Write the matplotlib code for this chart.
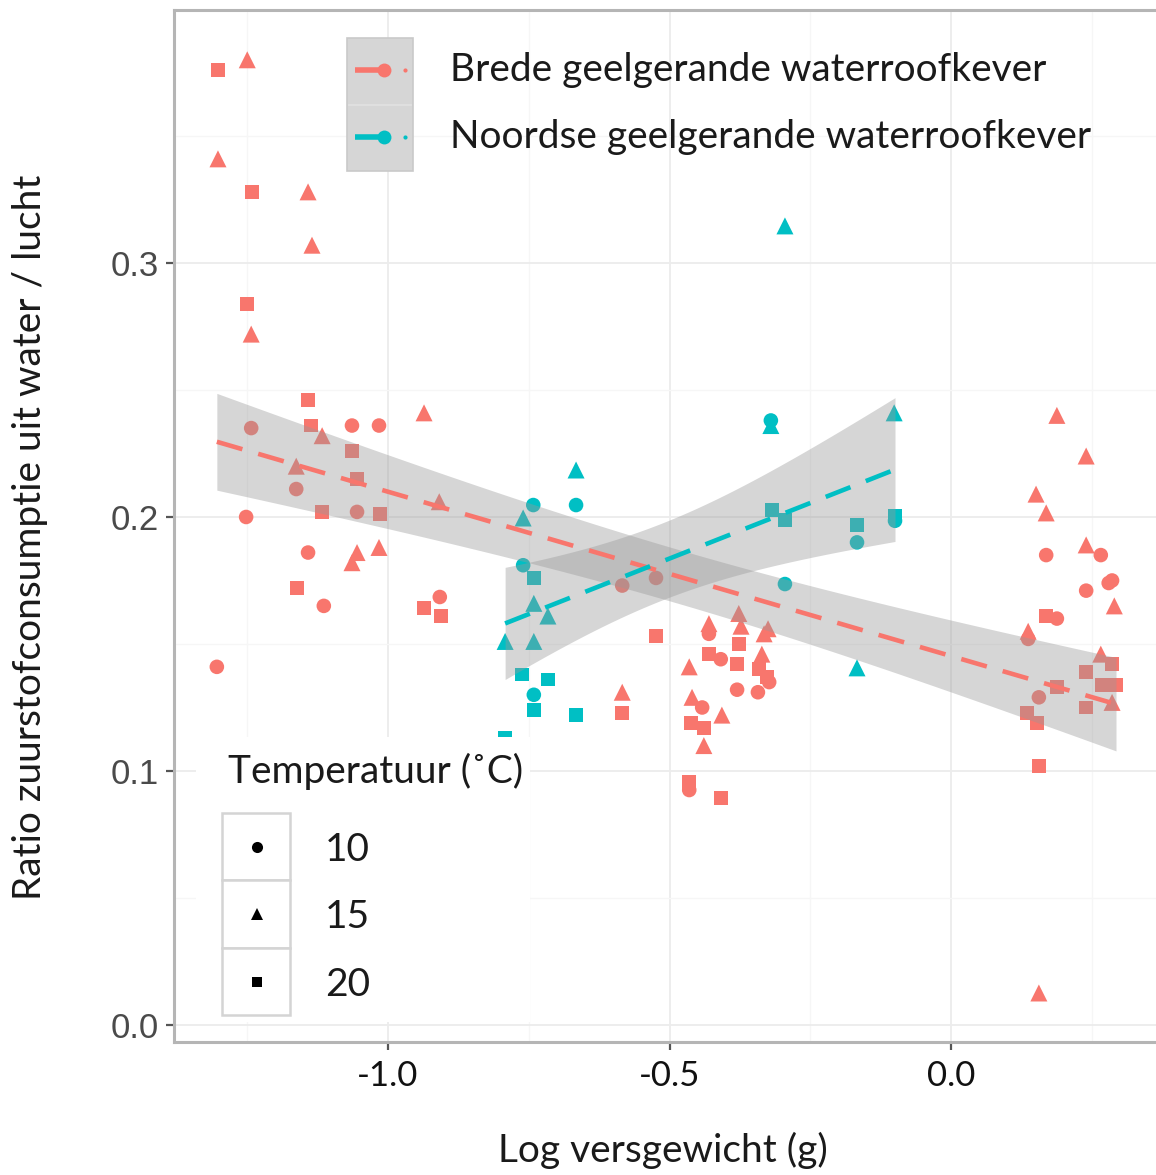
import numpy as np
import matplotlib
matplotlib.use("Agg")
import matplotlib.pyplot as plt
from matplotlib.patches import Rectangle
from matplotlib.lines import Line2D

# ---------------- data ----------------
species = ["Brede geelgerande waterroofkever", "Noordse geelgerande waterroofkever"]
temps = [10, 15, 20]
temp_labels = ["10", "15", "20"]

brede_x = [-1.302, -1.250, -1.302, -1.242, -1.142, -1.135, -1.250, -1.243, -0.936, -1.142,
           -1.137, -1.117, -1.064, -1.016, -1.243, -1.064, -1.163, -1.055, -1.163, -0.909,
           -1.117, -1.055, -1.014, -1.252, -1.142, -1.016, -1.055, -1.064, -1.162, -1.114,
           -0.908, -0.936, -0.906, -1.304, -0.524, -0.584, -0.524, -0.584, -0.584, -0.430,
           -0.430, -0.377, -0.373, -0.377, -0.332, -0.325, -0.430, -0.409, -0.380, -0.336,
           -0.341, -0.327, -0.323, -0.343, -0.380, -0.465, -0.460, -0.442, -0.407, -0.462,
           -0.439, -0.439, -0.465, -0.465, -0.409, 0.188, 0.240, 0.151, 0.169, 0.240,
           0.266, 0.169, 0.286, 0.280, 0.240, 0.290, 0.169, 0.188, 0.137, 0.137,
           0.266, 0.286, 0.240, 0.268, 0.293, 0.188, 0.156, 0.286, 0.240, 0.135,
           0.153, 0.156, 0.156]
brede_y = [0.376, 0.380, 0.341, 0.328, 0.328, 0.307, 0.284, 0.272, 0.241, 0.246,
           0.236, 0.232, 0.236, 0.236, 0.235, 0.226, 0.220, 0.215, 0.211, 0.206,
           0.202, 0.202, 0.201, 0.200, 0.186, 0.188, 0.186, 0.182, 0.172, 0.165,
           0.1685, 0.164, 0.161, 0.141, 0.176, 0.173, 0.153, 0.131, 0.123, 0.158,
           0.154, 0.162, 0.157, 0.150, 0.154, 0.156, 0.146, 0.144, 0.142, 0.146,
           0.140, 0.137, 0.135, 0.131, 0.132, 0.141, 0.129, 0.125, 0.122, 0.119,
           0.117, 0.110, 0.0957, 0.0925, 0.0894, 0.240, 0.224, 0.209, 0.2016, 0.189,
           0.185, 0.185, 0.175, 0.174, 0.171, 0.165, 0.161, 0.160, 0.155, 0.152,
           0.146, 0.142, 0.139, 0.134, 0.134, 0.133, 0.129, 0.127, 0.125, 0.123,
           0.119, 0.102, 0.0126]
brede_t = [20, 15, 15, 20, 15, 15, 20, 15, 15, 20,
           20, 15, 10, 10, 10, 20, 15, 20, 10, 15,
           20, 10, 20, 10, 10, 15, 15, 15, 20, 10,
           10, 20, 20, 10, 10, 10, 20, 15, 20, 15,
           10, 15, 15, 20, 15, 15, 20, 10, 20, 15,
           20, 20, 10, 10, 10, 15, 15, 10, 15, 20,
           20, 15, 20, 10, 20, 15, 15, 15, 15, 15,
           10, 10, 10, 10, 10, 15, 20, 10, 15, 10,
           15, 20, 20, 20, 20, 20, 10, 15, 20, 20,
           20, 20, 15]

noord_x = [-0.295, -0.101, -0.320, -0.320, -0.666, -0.666, -0.742, -0.760, -0.318, -0.295,
           -0.0995, -0.0995, -0.167, -0.167, -0.760, -0.741, -0.295, -0.741, -0.716, -0.792,
           -0.741, -0.167, -0.762, -0.716, -0.741, -0.741, -0.666, -0.792]
noord_y = [0.3146, 0.241, 0.238, 0.236, 0.2185, 0.2047, 0.2047, 0.1996, 0.2028, 0.1988,
           0.2005, 0.1985, 0.197, 0.190, 0.181, 0.176, 0.1736, 0.166, 0.161, 0.151,
           0.151, 0.1406, 0.138, 0.136, 0.130, 0.124, 0.122, 0.113]
noord_t = [15, 15, 10, 15, 15, 10, 10, 15, 20, 20,
           20, 10, 20, 10, 10, 20, 10, 15, 15, 15,
           15, 15, 20, 20, 10, 20, 20, 20]

# t quantiles (0.975) for the lm confidence bands
t_quant = {93: 1.986, 28: 2.056}

# ---------------- style ----------------
COLORS = ["#F8766D", "#00BFC4"]
MARKERS = {10: "o", 15: "^", 20: "s"}
MSIZE = {10: 110, 15: 150, 20: 100}

W, H = 1156, 1175
fig = plt.figure(figsize=(W / 100, H / 100), dpi=100)
fig.patch.set_facecolor("white")

left_px, right_px, top_px, bot_px = 174, 1162, 10, 1042
ax = fig.add_axes([left_px / W, 1 - bot_px / H, (right_px - left_px) / W, (bot_px - top_px) / H])

ax.set_xlim(-1.3801, 0.3747)
ax.set_ylim(-0.0067, 0.3996)
ax.set_facecolor("white")

# grid
ax.set_xticks([-1.0, -0.5, 0.0])
ax.set_xticks([-1.25, -0.75, -0.25, 0.25], minor=True)
ax.set_yticks([0.0, 0.1, 0.2, 0.3])
ax.set_yticks([0.05, 0.15, 0.25, 0.35], minor=True)
ax.grid(which="major", color="#ececec", linewidth=1.3, zorder=0)
ax.grid(which="minor", color="#f6f6f6", linewidth=1.0, zorder=0)
ax.set_axisbelow(True)

for s in ax.spines.values():
    s.set_color("#b5b5b5")
    s.set_linewidth(2.2)

ax.tick_params(axis="both", which="major", length=6, width=1.6, color="#555555")
ax.tick_params(axis="both", which="minor", length=0)
ax.set_xticklabels(["-1.0", "-0.5", "0.0"], fontsize=25, family=["Lato", "DejaVu Sans"], color="#111111")
ax.set_yticklabels(["0.0", "0.1", "0.2", "0.3"], fontsize=25, family="Liberation Sans", color="#4a4a4a")
ax.tick_params(axis="x", pad=7)
ax.tick_params(axis="y", pad=5)

datasets = [(brede_x, brede_y, brede_t), (noord_x, noord_y, noord_t)]

# points
for (xs, ys, ts), col in zip(datasets, COLORS):
    xs = np.asarray(xs); ys = np.asarray(ys); ts = np.asarray(ts)
    for t in temps:
        m = ts == t
        ax.scatter(xs[m], ys[m], marker=MARKERS[t], s=MSIZE[t], color=col,
                   edgecolors="none", zorder=3)

# lm smooth with 95% CI (ribbon over points, line on top)
for (xs, ys, ts), col in zip(datasets, COLORS):
    xs = np.asarray(xs); ys = np.asarray(ys)
    n = len(xs)
    b1, b0 = np.polyfit(xs, ys, 1)
    resid = ys - (b0 + b1 * xs)
    s = np.sqrt(np.sum(resid ** 2) / (n - 2))
    xm = xs.mean()
    sxx = np.sum((xs - xm) ** 2)
    xg = np.linspace(xs.min(), xs.max(), 80)
    yg = b0 + b1 * xg
    se = s * np.sqrt(1.0 / n + (xg - xm) ** 2 / sxx)
    tq = t_quant[n]
    ax.fill_between(xg, yg - tq * se, yg + tq * se, color="#999999", alpha=0.4,
                    linewidth=0, zorder=4)
    ax.plot(xg, yg, color=col, linewidth=3.3, dashes=(5.8, 3.6), zorder=5)

# ---------------- overlay for legends / labels (pixel coords) ----------------
ov = fig.add_axes([0, 0, 1, 1], zorder=10)
ov.set_xlim(0, W)
ov.set_ylim(H, 0)
ov.axis("off")
ov.patch.set_alpha(0)

LFONT = ["Lato", "DejaVu Sans"]

# species legend
ov.add_patch(Rectangle((347, 38), 66, 133, facecolor="#d6d6d6", edgecolor="#c9c9c9", linewidth=1.2))
ov.plot([349, 411], [104.5, 104.5], color="#e2e2e2", linewidth=1.2)
for i, (name, col) in enumerate(zip(species, COLORS)):
    yk = 70 + 67 * i
    ov.plot([355, 382], [yk, yk], color=col, linewidth=4.0, solid_capstyle="butt")
    ov.plot([384], [yk], marker="o", markersize=10, color=col, markeredgewidth=0)
    ov.plot([405], [yk], marker="o", markersize=3, color=col, markeredgewidth=0)
    ov.text(450, yk, name, fontsize=28, family=LFONT, color="#1a1a1a", va="center", ha="left")

# temperature legend
ov.add_patch(Rectangle((196, 737), 334, 285, facecolor="white", edgecolor="none"))
ov.text(228, 771, "Temperatuur (˚C)", fontsize=28, family=LFONT, color="#1a1a1a", va="center", ha="left")
for i, (t, lab) in enumerate(zip(temps, temp_labels)):
    y0 = 813 + 67.3 * i
    ov.add_patch(Rectangle((222, y0), 68, 67.3, facecolor="white", edgecolor="#d4d4d4", linewidth=1.8))
    ms = {10: 8, 15: 9, 20: 7.5}[t]
    ov.plot([257], [y0 + 34], marker=MARKERS[t], markersize=ms, color="black", markeredgewidth=0)
    ov.text(325, y0 + 37, lab, fontsize=28, family=LFONT, color="#1a1a1a", va="center", ha="left")

# axis titles
ov.text(663, 1162, "Log versgewicht (g)", fontsize=28, family=LFONT, color="#1a1a1a",
        va="baseline", ha="center")
ov.text(30, 537, "Ratio zuurstofconsumptie uit water / lucht", fontsize=28, family=LFONT,
        color="#1a1a1a", va="center", ha="center", rotation=90)

fig.savefig("out.png", dpi=100, facecolor="white")
